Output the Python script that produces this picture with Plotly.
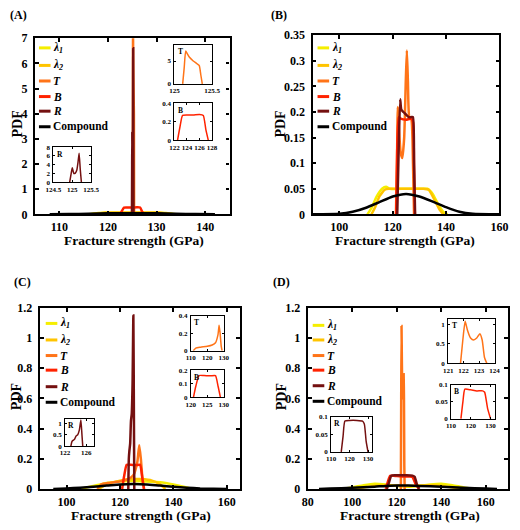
import plotly.graph_objects as go

W, H = 520, 530
FONT = "Liberation Serif"

# ---------------- colours per series ----------------
COL_L1 = "#F5EE00"
COL_L2 = "#FFC400"
COL_T = "#FF7418"
COL_B = "#FF2200"
COL_R = "#741010"
COL_C = "#000000"

LEG_LABELS = ["<b><i>λ<sub>1</sub></i></b>", "<b><i>λ<sub>2</sub></i></b>",
              "<b><i>T</i></b>", "<b><i>B</i></b>", "<b><i>R</i></b>", "<b>Compound</b>"]
LEG_COLORS = [COL_L1, COL_L2, COL_T, COL_B, COL_R, COL_C]

# ---------------- Panel A data ----------------
A_l1_x = [115, 116.5, 118, 120, 125, 130, 132, 133.5, 135]
A_l1_y = [0, 0.02, 0.055, 0.06, 0.06, 0.06, 0.055, 0.02, 0]
A_l2_x = [116.5, 118, 119.5, 121, 125, 129, 130.5, 132, 133.5]
A_l2_y = [0, 0.03, 0.07, 0.075, 0.075, 0.075, 0.07, 0.03, 0]
A_T_x = [125.11, 125.13, 125.15, 125.17, 125.2, 125.25, 125.3, 125.33, 125.35, 125.37]
A_T_y = [0, 3.5, 7.2, 6.6, 5.8, 5.0, 4.4, 4.0, 2.0, 0]
A_B_x = [122.5, 122.9, 123.3, 124, 125, 126, 126.6, 127, 127.4]
A_B_y = [0, 0.15, 0.27, 0.275, 0.275, 0.28, 0.27, 0.12, 0]
A_R_x = [124.93, 124.97, 125.0, 125.04, 125.08, 125.12, 125.15, 125.18, 125.21, 125.24]
A_R_y = [0, 2.0, 3.3, 2.0, 2.1, 2.8, 4.5, 6.6, 3.0, 0]
A_C_x = [108, 112, 116, 120, 125, 130, 134, 138, 142]
A_C_y = [0, 0.01, 0.025, 0.04, 0.045, 0.04, 0.025, 0.01, 0]

# ---------------- Panel B data ----------------
B_l1_x = [110.5, 112, 114, 116, 117.5, 119, 125, 131, 133, 135, 137, 139, 140.5]
B_l1_y = [0, 0.012, 0.035, 0.05, 0.054, 0.05, 0.05, 0.05, 0.05, 0.04, 0.02, 0.005, 0]
B_l2_x = [112, 113.5, 115, 117, 118.5, 125, 131.5, 133.5, 135.5, 137.5, 139]
B_l2_y = [0, 0.015, 0.035, 0.048, 0.05, 0.05, 0.05, 0.048, 0.03, 0.01, 0]
B_T_x = [121.2, 121.6, 121.9, 122.3, 123, 123.6, 124.3, 124.9, 125.3, 125.7, 126.2, 127, 127.6, 128]
B_T_y = [0, 0.1, 0.21, 0.17, 0.12, 0.11, 0.15, 0.26, 0.32, 0.26, 0.19, 0.185, 0.1, 0]
B_B_x = [121.3, 121.8, 122.3, 123, 125, 127, 127.6, 128, 128.3]
B_B_y = [0, 0.15, 0.19, 0.187, 0.185, 0.187, 0.18, 0.09, 0]
B_R_x = [121.7, 122.2, 122.8, 123.2, 124, 125, 126, 127, 127.6, 128, 128.4]
B_R_y = [0, 0.12, 0.225, 0.205, 0.2, 0.195, 0.19, 0.19, 0.19, 0.1, 0]
B_C_x = [90, 100, 105, 110, 115, 120, 125, 130, 135, 140, 145, 150, 160]
B_C_y = [0, 0.001, 0.005, 0.013, 0.024, 0.035, 0.04, 0.035, 0.025, 0.014, 0.005, 0.001, 0]

# ---------------- Panel C data ----------------
C_l1_x = [105, 110, 115, 120, 125, 130, 135, 140, 145, 147]
C_l1_y = [0, 0.02, 0.04, 0.05, 0.052, 0.05, 0.045, 0.03, 0.01, 0]
C_l2_x = [112, 115, 120, 125, 128, 132, 135, 137]
C_l2_y = [0, 0.03, 0.055, 0.065, 0.065, 0.055, 0.03, 0]
C_T_x = [111.5, 113, 116, 120, 123, 125, 126.5, 127.2, 127.8, 128.5, 129]
C_T_y = [0, 0.03, 0.04, 0.05, 0.065, 0.09, 0.18, 0.29, 0.2, 0.05, 0]
C_B_x = [120.8, 121.5, 122.5, 124, 126, 127.5, 128.3, 129]
C_B_y = [0, 0.08, 0.16, 0.16, 0.158, 0.16, 0.08, 0]
C_R_x = [123.1, 123.3, 123.5, 123.8, 124.1, 124.4, 124.7, 125.0, 125.2, 125.35]
C_R_y = [0, 0.2, 0.25, 0.3, 0.45, 0.5, 0.7, 1.15, 0.5, 0]
C_C_x = [95, 100, 105, 110, 115, 120, 125, 130, 135, 140, 145, 150, 155, 160]
C_C_y = [0, 0.003, 0.008, 0.015, 0.022, 0.03, 0.033, 0.03, 0.022, 0.015, 0.008, 0.003, 0.001, 0]

# ---------------- Panel D data ----------------
D_l1_x = [95, 100, 105, 110, 115, 120, 125, 130, 135, 140, 145, 150, 155]
D_l1_y = [0, 0.01, 0.025, 0.035, 0.03, 0.02, 0.015, 0.02, 0.03, 0.035, 0.025, 0.01, 0]
D_l2_x = [100, 105, 110, 115, 120, 125, 130, 135, 140, 145, 150]
D_l2_y = [0, 0.01, 0.02, 0.025, 0.022, 0.02, 0.022, 0.025, 0.02, 0.01, 0]
D_T_x = [121.8, 121.95, 122.1, 122.25, 122.45, 122.65, 122.85, 123.05, 123.2, 123.35, 123.5]
D_T_y = [0, 0.6, 1.08, 0.85, 0.65, 0.6, 0.65, 0.76, 0.6, 0.15, 0]
D_B_x = [115, 116, 117, 120, 123, 126, 127, 128.5, 130]
D_B_y = [0, 0.05, 0.087, 0.085, 0.082, 0.082, 0.078, 0.03, 0]
D_R_x = [115.5, 116.5, 117.5, 120, 124, 127, 128, 129, 130]
D_R_y = [0, 0.045, 0.088, 0.09, 0.09, 0.088, 0.08, 0.03, 0]
D_C_x = [85, 90, 100, 110, 115, 120, 125, 130, 140, 150, 160, 165]
D_C_y = [0, 0.002, 0.008, 0.015, 0.02, 0.022, 0.022, 0.02, 0.014, 0.007, 0.002, 0]

# ---------------- helpers ----------------
fig = go.Figure()
layout = {}
annotations = []
shapes = []
count = [0]


def px(x):
    return x / W


def py(y):
    return 1 - y / H


def add_axes(xpx, ypx, xr, yr, xt, yt, inset=False):
    count[0] += 1
    i = count[0]
    xk = "xaxis" if i == 1 else f"xaxis{i}"
    yk = "yaxis" if i == 1 else f"yaxis{i}"
    xa = "x" if i == 1 else f"x{i}"
    ya = "y" if i == 1 else f"y{i}"
    fs = 7 if inset else 12
    lw = 1 if inset else 2.4
    common = dict(showline=True, linecolor="black", linewidth=lw, mirror="ticks",
                  ticks="inside", ticklen=2 if inset else 3.5, tickwidth=1 if inset else 1.5,
                  tickcolor="black", showgrid=False, zeroline=False, fixedrange=True,
                  tickangle=0,
                  tickfont=dict(family=FONT, size=fs, color="black", weight="bold"))
    layout[xk] = dict(domain=[px(xpx[0]), px(xpx[1])], range=xr, tickvals=xt,
                      anchor=ya, ticklabelstandoff=0, **common)
    layout[yk] = dict(domain=[py(ypx[1]), py(ypx[0])], range=yr, tickvals=yt,
                      anchor=xa, ticklabelstandoff=1 if inset else 3, **common)
    return xa, ya


def add_line(ax, x, y, color, width):
    fig.add_trace(go.Scatter(x=x, y=y, mode="lines", xaxis=ax[0], yaxis=ax[1],
                             line=dict(color=color, width=width, shape="spline", smoothing=0.5),
                             showlegend=False, hoverinfo="skip"))


def text(x, y, s, size, xanchor="center", yanchor="middle", angle=0):
    annotations.append(dict(x=px(x), y=py(y), xref="paper", yref="paper", text=s,
                            showarrow=False, xanchor=xanchor, yanchor=yanchor, textangle=angle,
                            borderpad=0,
                            font=dict(family=FONT, size=size, color="black")))


def legend(x0, rows):
    for lab, col, yy in zip(LEG_LABELS, LEG_COLORS, rows):
        shapes.append(dict(type="line", xref="paper", yref="paper", x0=px(x0), x1=px(x0 + 12),
                           y0=py(yy), y1=py(yy), line=dict(color=col, width=3)))
        annotations.append(dict(x=px(x0 + 14), y=py(yy), xref="paper", yref="paper", text=lab,
                                showarrow=False, xanchor="left", yanchor="middle", borderpad=0,
                                font=dict(family=FONT, size=11.5, color="black")))


def panel(ax, series, w):
    for (x, y), c in zip(series, LEG_COLORS):
        add_line(ax, x, y, c, w)


def inset(xpx, ypx, xr, yr, xt, yt, x, y, color, letter):
    ax = add_axes(xpx, ypx, xr, yr, xt, yt, inset=True)
    add_line(ax, x, y, color, 1.5)
    text(xpx[0] + 2.5, ypx[0] + 1.5, f"<b>{letter}</b>", 7.5, xanchor="left", yanchor="top")


# ---------------- Panel A ----------------
axA = add_axes((28, 229), (32, 213), [105, 145], [0, 7], [110, 120, 130, 140], list(range(8)))
panel(axA, [(A_l1_x, A_l1_y), (A_l2_x, A_l2_y), (A_T_x, A_T_y), (A_B_x, A_B_y),
            (A_R_x, A_R_y), (A_C_x, A_C_y)], 2.5)
inset((172, 211), (39, 79), [125, 125.5], [0, 8.5], [125, 125.5], [0, 5], A_T_x, A_T_y, COL_T, "T")
inset((172, 211), (99, 137), [122, 128], [0, 0.4], [122, 124, 126, 128], [0, 0.2, 0.4], A_B_x, A_B_y, COL_B, "B")
inset((47, 86), (144, 180), [124.5, 125.5], [0, 8], [124.5, 125, 125.5], [0, 2, 4, 6, 8], A_R_x, A_R_y, COL_R, "R")

# ---------------- Panel B ----------------
axB = add_axes((315, 508), (29, 213), [90, 160], [0, 0.35], [100, 120, 140, 160],
               [0, 0.05, 0.1, 0.15, 0.2, 0.25, 0.3, 0.35])
panel(axB, [(B_l1_x, B_l1_y), (B_l2_x, B_l2_y), (B_T_x, B_T_y), (B_B_x, B_B_y),
            (B_R_x, B_R_y), (B_C_x, B_C_y)], 2.5)

# ---------------- Panel C ----------------
axC = add_axes((33, 240), (309, 495), [90, 165], [0, 1.2], [100, 120, 140, 160],
               [0, 0.2, 0.4, 0.6, 0.8, 1, 1.2])
panel(axC, [(C_l1_x, C_l1_y), (C_l2_x, C_l2_y), (C_T_x, C_T_y), (C_B_x, C_B_y),
            (C_R_x, C_R_y), (C_C_x, C_C_y)], 2.5)
inset((189, 223), (317, 353), [110, 130], [0, 0.4], [110, 120, 130], [0, 0.2, 0.4], C_T_x, C_T_y, COL_T, "T")
inset((189, 223), (373, 401), [120, 130], [0, 0.2], [120, 125, 130], [0, 0.1, 0.2], C_B_x, C_B_y, COL_B, "B")
inset((59, 89), (423, 451), [122, 127.5], [0, 1.2], [122, 126], [0, 0.5, 1], C_R_x, C_R_y, COL_R, "R")

# ---------------- Panel D ----------------
axD = add_axes((310, 517), (309, 495), [80, 170], [0, 1.2], [80, 100, 120, 140, 160],
               [0, 0.2, 0.4, 0.6, 0.8, 1, 1.2])
panel(axD, [(D_l1_x, D_l1_y), (D_l2_x, D_l2_y), (D_T_x, D_T_y), (D_B_x, D_B_y),
            (D_R_x, D_R_y), (D_C_x, D_C_y)], 2.5)
inset((455, 503), (320, 366), [121, 124], [0, 1.15], [121, 122, 123, 124], [0, 0.5, 1], D_T_x, D_T_y, COL_T, "T")
inset((458, 503), (388, 423), [110, 132], [0, 0.1], [110, 120, 130], [0, 0.05, 0.1], D_B_x, D_B_y, COL_B, "B")
inset((334, 376), (421, 457), [110, 132], [0, 0.1], [110, 120, 130], [0, 0.05, 0.1], D_R_x, D_R_y, COL_R, "R")

# ---------------- legends ----------------
legend(32, [42, 60, 76, 92, 107, 123])
legend(320, [42, 60, 76, 92, 107, 123])
legend(39, [325, 342, 358, 373, 390, 406])
legend(315, [327, 342, 358, 373, 389, 405])

# ---------------- titles ----------------
for (cx, cy) in [(130, 240), (410, 240), (138, 522.5), (416, 522.5)]:
    text(cx, cy, "<b>Fracture strength (GPa)</b>", 13.5)
for (cx, cy) in [(10, 120), (282, 120), (9, 400), (283, 400)]:
    text(cx, cy, "<b>PDF</b>", 14, angle=-90)
for (cx, cy, s) in [(1, 8, "(A)"), (271, 8, "(B)"), (5, 282, "(C)"), (273, 282, "(D)")]:
    text(cx, cy, f"<b>{s}</b>", 12, xanchor="left")

fig.update_layout(width=W, height=H, margin=dict(l=0, r=0, t=0, b=0),
                  paper_bgcolor="white", plot_bgcolor="white", showlegend=False,
                  annotations=annotations, shapes=shapes, **layout)
fig.write_html("out.html", config={"displayModeBar": False},
               post_script="document.body.style.margin='0';document.body.style.overflow='hidden';")
